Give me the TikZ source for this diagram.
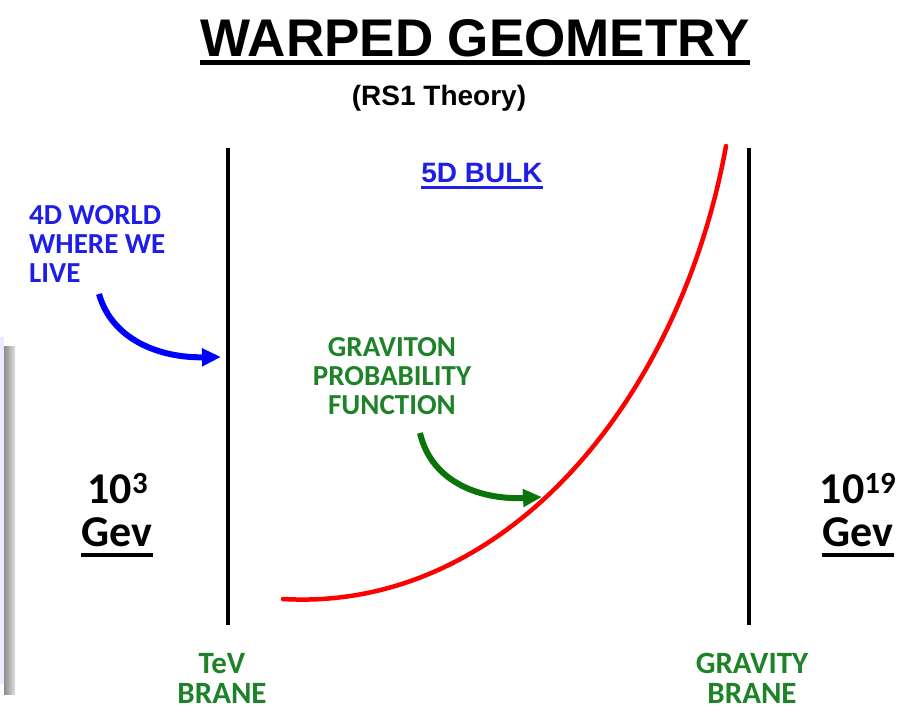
\documentclass[tikz,border=0pt]{standalone}
\usepackage{fontspec}
\setmainfont{Liberation Sans}
\newfontfamily\cali{Carlito}
\usetikzlibrary{arrows.meta}
\definecolor{azul}{RGB}{30,30,230}
\definecolor{verde}{RGB}{30,130,40}
\definecolor{verdeFlecha}{RGB}{10,115,10}
\definecolor{lila}{RGB}{236,234,255}

\begin{document}
\begin{tikzpicture}[x=1pt, y=-1pt,
    txt/.style={inner sep=0pt, anchor=base},
    etiqueta/.style={inner sep=0pt, align=center, text=verde, font={\cali\bfseries\fontsize{29}{29}\selectfont}},
    energia/.style={inner sep=0pt, anchor=base, font={\cali\bfseries\fontsize{44}{44}\selectfont}},
    brana/.style={line width=4pt},
    subrayado/.style={line width=4pt},
    flecha/.style={line width=6pt, -{Triangle[length=19pt, width=17pt]}}]
    \useasboundingbox (0,0) rectangle (905,711);
    % Borde de la ventana (izquierda)
    \fill[lila] (0,337) rectangle (4,684);
    \shade[left color=gray!90, right color=gray!25] (4,346) rectangle (15,694);
    % Titulo
    \node[txt, font={\bfseries\fontsize{53}{53}\selectfont}] (titulo) at (475,57) {WARPED GEOMETRY};
    \draw[subrayado, line width=5pt] ([yshift=-6pt]titulo.base west) -- ([yshift=-6pt]titulo.base east);
    \node[txt, font={\bfseries\fontsize{28}{28}\selectfont}] (teoria) at (439,106) {(RS1 Theory)};
    \node[txt, text=azul, font={\bfseries\fontsize{28}{28}\selectfont}] (bulk) at (482,183) {5D BULK};
    \draw[subrayado, azul, line width=3pt] ([yshift=-5pt]bulk.base west) -- ([yshift=-5pt]bulk.base east);
    % Branas
    \coordinate (tevArriba) at (228,148);
    \coordinate (tevAbajo) at (228,625);
    \coordinate (gravArriba) at (749,148);
    \coordinate (gravAbajo) at (749,625);
    \draw[brana] (tevArriba) -- (tevAbajo);
    \draw[brana] (gravArriba) -- (gravAbajo);
    \node[etiqueta, anchor=north, font={\cali\bfseries\fontsize{31}{30}\selectfont}] (tev) at (222,653) {TeV\\BRANE};
    \node[etiqueta, anchor=north, font={\cali\bfseries\fontsize{31}{30}\selectfont}] (grav) at (752,653) {GRAVITY\\BRANE};
    % Energias
    \node[energia] (bajaE) at (118,503) {10\textsuperscript{3}};
    \node[energia] (bajaGev) at (117,546) {Gev};
    \draw[subrayado] ([yshift=-9pt]bajaGev.base west) -- ([yshift=-9pt]bajaGev.base east);
    \node[energia] (altaE) at (858,503) {10\textsuperscript{19}};
    \node[energia] (altaGev) at (858,546) {Gev};
    \draw[subrayado] ([yshift=-9pt]altaGev.base west) -- ([yshift=-9pt]altaGev.base east);
    % Funcion de probabilidad del graviton
    \coordinate (curvaIni) at (283,599);
    \coordinate (curvaFin) at (726,146);
    \draw[red, line width=4.5pt, line cap=round] (curvaIni) .. controls (505,612) and (680,400) .. (curvaFin);
    % Textos y flechas
    \node[etiqueta, anchor=north west, align=left, text=azul] (mundo) at (29,205) {4D WORLD\\WHERE WE\\LIVE};
    \coordinate (mundoIni) at (99,294);
    \coordinate (mundoFin) at (221,357);
    \draw[flecha, blue] (mundoIni) .. controls (112,340) and (160,358) .. (mundoFin);
    \node[etiqueta, anchor=north] (graviton) at (392,337) {GRAVITON\\PROBABILITY\\FUNCTION};
    \coordinate (gravIni) at (420,433);
    \coordinate (gravFin) at (542,497);
    \draw[flecha, verdeFlecha] (gravIni) .. controls (432,485) and (485,500) .. (gravFin);
\end{tikzpicture}
\end{document}
